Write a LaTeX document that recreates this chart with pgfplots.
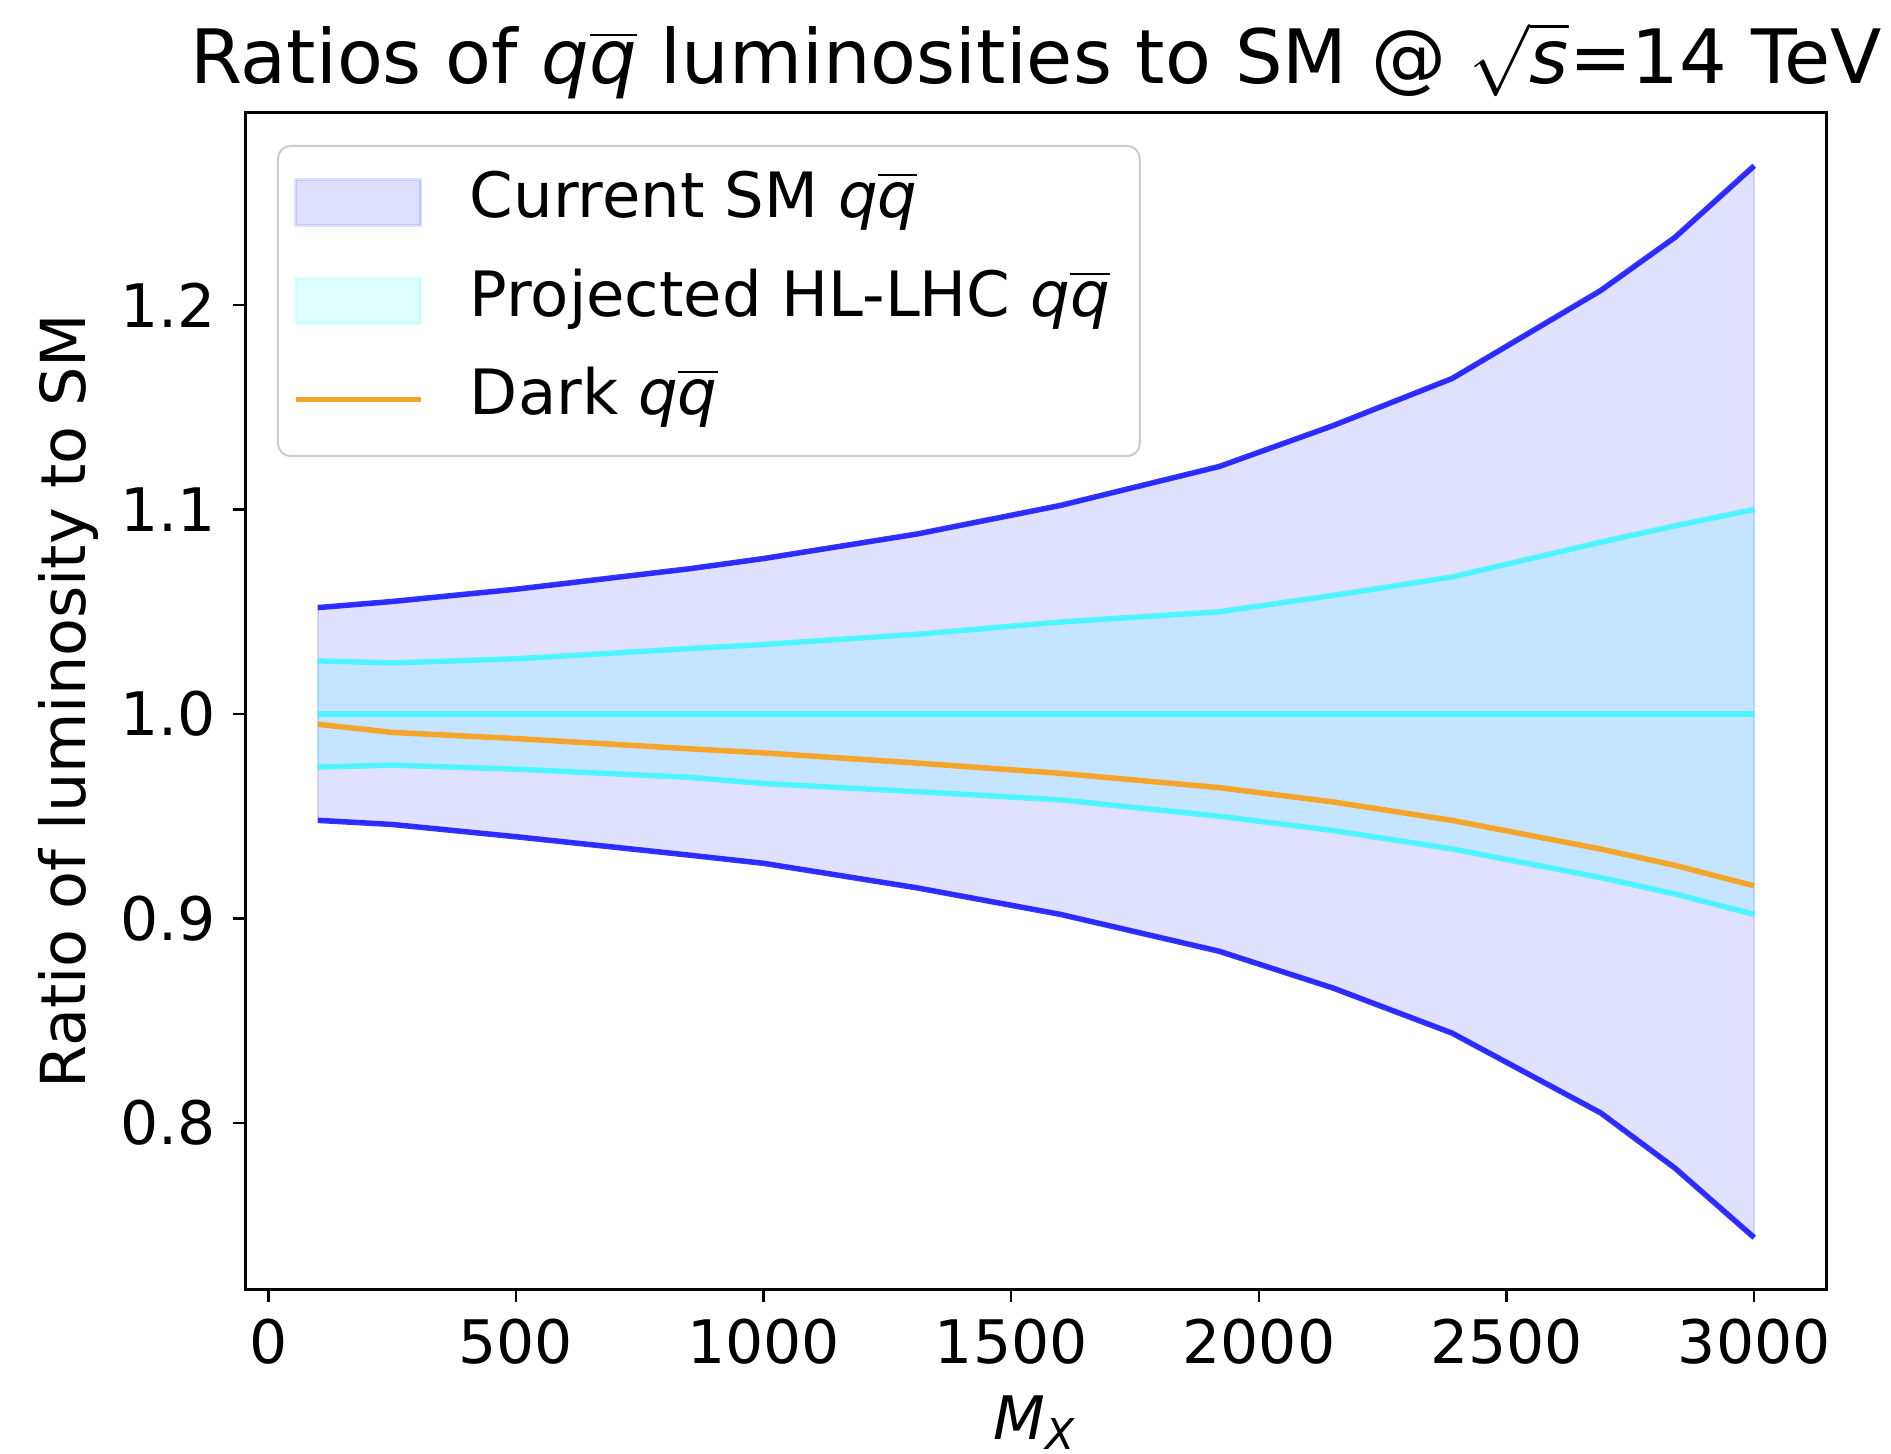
\documentclass[border=0pt]{standalone}
\usepackage{pgfplots}
\pgfplotsset{compat=1.18}
\usepgfplotslibrary{fillbetween}
\usepackage{fontspec}
\setmainfont{DejaVu Sans}
\newcommand\qqbar{\textit{q}$\overline{\mbox{\textit{q}}}$}
\definecolor{darkorange}{HTML}{F5A52A}
\definecolor{cy}{rgb}{0,1,1}
\definecolor{bl}{rgb}{0,0,1}

\pgfplotstableread{
x    smup   smdn   hlup   hldn   dark
100  1.052  0.948  1.026  0.974  0.995
250  1.055  0.946  1.025  0.975  0.991
500  1.061  0.940  1.027  0.973  0.988
850  1.071  0.931  1.032  0.969  0.983
1000 1.076  0.927  1.034  0.966  0.981
1310 1.088  0.915  1.039  0.962  0.976
1600 1.102  0.902  1.045  0.958  0.971
1920 1.121  0.884  1.050  0.950  0.964
2150 1.141  0.866  1.058  0.943  0.957
2390 1.164  0.844  1.067  0.934  0.948
2690 1.207  0.805  1.084  0.920  0.934
2840 1.233  0.778  1.092  0.912  0.926
3000 1.268  0.744  1.100  0.902  0.916
}\data

\begin{document}
\begin{tikzpicture}
\begin{axis}[
  scale only axis,
  width=316pt, height=235.2pt,
  xmin=-45, xmax=3145, ymin=0.7189, ymax=1.2938,
  xtick={0,500,1000,1500,2000,2500,3000},
  ytick={0.8,0.9,1.0,1.1,1.2},
  tick pos=left,
  tick align=outside,
  major tick length=2.5pt,
  tick style={black, line width=0.5pt},
  axis line style={black, line width=0.6pt},
  /pgf/number format/assume math mode=true,
  xticklabel style={font=\fontsize{12}{12}\selectfont, /pgf/number format/1000 sep={}},
  yticklabel style={font=\fontsize{12}{12}\selectfont, /pgf/number format/.cd, fixed, fixed zerofill, precision=1},
  title={Ratios of \qqbar{} luminosities to SM @ $\sqrt{\mbox{\textit{s}}}$=14 TeV},
  title style={at={(axis description cs:0.5,1.0247)}, anchor=base, yshift=-6pt, font=\fontsize{15}{17}\selectfont},
  xlabel={\textit{M}$_{\mbox{\fontsize{8.5}{9}\selectfont\textit{X}}}$},
  xlabel style={at={(axis description cs:0.5,-0.1276)}, anchor=base, font=\fontsize{12}{14}\selectfont},
  ylabel={Ratio of luminosity to SM},
  ylabel style={at={(axis description cs:-0.1122,0.5)}, anchor=center, rotate=0, font=\fontsize{12.4}{14}\selectfont},
  legend cell align=left,
  legend style={at={(axis description cs:0,1)}, anchor=north west, xshift=6.2pt, yshift=-6.4pt,
    draw=black!20, rounded corners=2.5pt, fill=white, fill opacity=0.8, text opacity=1,
    inner xsep=3pt, inner ysep=3.3pt, row sep=3.7pt,
    font=\fontsize{12.5}{14}\selectfont,
    nodes={text height=9pt, text depth=3pt, inner ysep=2pt, inner xsep=3pt},
    /tikz/every even column/.append style={column sep=0pt}},
]
\addplot[draw=none, name path=smup, forget plot] table[x=x, y=smup] {\data};
\addplot[draw=none, name path=smdn, forget plot] table[x=x, y=smdn] {\data};
\addplot[draw=none, name path=hlup, forget plot] table[x=x, y=hlup] {\data};
\addplot[draw=none, name path=hldn, forget plot] table[x=x, y=hldn] {\data};

\addplot[fill=bl, fill opacity=0.12, draw=bl, draw opacity=0.12, line width=0.4pt,
  legend image code/.code={\draw[sharp corners, fill=bl, fill opacity=0.12, draw=bl, draw opacity=0.12, line width=0.6pt] (0pt,-4.5pt) rectangle (25pt,4.5pt); \path (31.3pt,0pt);}]
  fill between[of=smup and smdn];
\addlegendentry{Current SM \qqbar}
\addplot[fill=cy, fill opacity=0.12, draw=cy, draw opacity=0.12, line width=0.4pt,
  legend image code/.code={\draw[sharp corners, fill=cy, fill opacity=0.12, draw=cy, draw opacity=0.12, line width=0.6pt] (0pt,-4.5pt) rectangle (25pt,4.5pt); \path (31.3pt,0pt);}]
  fill between[of=hlup and hldn];
\addlegendentry{Projected HL-LHC \qqbar}

\addplot[bl, draw opacity=0.8, line width=1.1pt, forget plot] table[x=x, y=smup] {\data};
\addplot[bl, draw opacity=0.8, line width=1.1pt, forget plot] table[x=x, y=smdn] {\data};
\addplot[cy, draw opacity=0.6, line width=1.1pt, forget plot] table[x=x, y=hlup] {\data};
\addplot[cy, draw opacity=0.6, line width=1.1pt, forget plot] table[x=x, y=hldn] {\data};
\addplot[cy, draw opacity=0.6, line width=1.1pt, forget plot] coordinates {(100,1.0) (3000,1.0)};
\addplot[darkorange, line width=1.1pt,
  legend image code/.code={\draw[sharp corners, darkorange, line width=1.1pt] (0pt,0pt) -- (25pt,0pt); \path (31.3pt,0pt);}]
  table[x=x, y=dark] {\data};
\addlegendentry{Dark \qqbar}
\end{axis}
\pgfresetboundingbox
\path[use as bounding box] ([xshift=-49.2pt,yshift=-32.8pt]current axis.south west) rectangle ([xshift=13pt,yshift=22.6pt]current axis.north east);
\end{tikzpicture}
\end{document}
